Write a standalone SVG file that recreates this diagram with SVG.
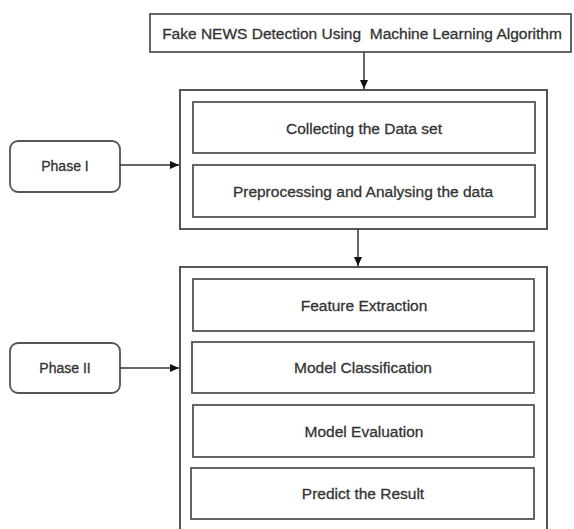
<svg xmlns="http://www.w3.org/2000/svg" width="574" height="529" viewBox="0 0 574 529">
<defs>
<style>
.box{fill:#fff;stroke:#555;stroke-width:1.8}
.outer{fill:#fff;stroke:#555;stroke-width:2}
.t{font-family:"Liberation Sans",Arial,sans-serif;font-size:15.5px;fill:#333;text-anchor:middle;dominant-baseline:central;stroke:#333;stroke-width:0.3}
.c{stroke:#333;stroke-width:1.5;fill:none}
</style>
<marker id="ah" markerWidth="10" markerHeight="10" refX="9" refY="5" orient="auto" markerUnits="userSpaceOnUse">
<path d="M0,1 L9,5 L0,9 Z" fill="#111"/>
</marker>
</defs>
<rect width="574" height="529" fill="#fff"/>
<g id="title">
<rect class="box" x="150" y="14" width="421" height="38"/>
<text class="t" x="362" y="33" xml:space="preserve">Fake NEWS Detection Using  Machine Learning Algorithm</text>
</g>
<g id="phase1-group">
<rect class="outer" x="180" y="90" width="367" height="139"/>
</g>
<g id="collect">
<rect class="box" x="193" y="102" width="342" height="51"/>
<text class="t" x="364" y="128">Collecting the Data set</text>
</g>
<g id="preprocess">
<rect class="box" x="193" y="165" width="342" height="52"/>
<text class="t" x="363" y="191">Preprocessing and Analysing the data</text>
</g>
<g id="phase1">
<rect class="box" x="10" y="141" width="110" height="51" rx="8"/>
<text class="t" x="65" y="166" style="font-size:14px">Phase I</text>
</g>
<g id="phase2-group">
<rect class="outer" x="180" y="267" width="367" height="270"/>
</g>
<g id="feature">
<rect class="box" x="193" y="279" width="341" height="52"/>
<text class="t" x="364" y="305">Feature Extraction</text>
</g>
<g id="classification">
<rect class="box" x="192" y="342" width="342" height="51"/>
<text class="t" x="363" y="367">Model Classification</text>
</g>
<g id="evaluation">
<rect class="box" x="193" y="405" width="341" height="52"/>
<text class="t" x="364" y="431">Model Evaluation</text>
</g>
<g id="predict">
<rect class="box" x="191" y="468" width="343" height="51"/>
<text class="t" x="363" y="493">Predict the Result</text>
</g>
<g id="phase2">
<rect class="box" x="10" y="343" width="110" height="50" rx="8"/>
<text class="t" x="65" y="368" style="font-size:14px">Phase II</text>
</g>
<g id="connectors">
<line class="c" x1="364" y1="52" x2="364" y2="89" marker-end="url(#ah)"/>
<line class="c" x1="358" y1="229" x2="358" y2="266" marker-end="url(#ah)"/>
<line class="c" x1="120" y1="165" x2="179" y2="165" marker-end="url(#ah)"/>
<line class="c" x1="120" y1="368" x2="179" y2="368" marker-end="url(#ah)"/>
</g>
</svg>
